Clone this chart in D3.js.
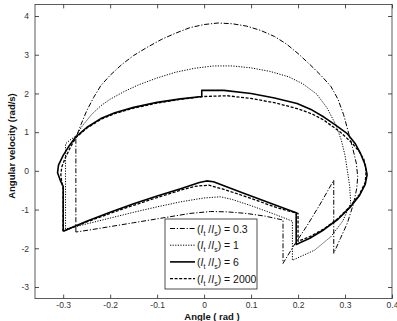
<!DOCTYPE html>
<html>
<head>
<meta charset="utf-8">
<script src="https://cdn.jsdelivr.net/npm/d3@7"></script>
<style>
  body { margin: 0; background: #fff; }
  svg { display: block; }
  text { font-family: "Liberation Sans", Arial, sans-serif; }
</style>
</head>
<body>
<div id="chart"></div>
<script>
// inertia ratios shown in the legend
const ratioLabels = ["0.3", "1", "6", "2000"];
const xTicks = [-0.3, -0.2, -0.1, 0, 0.1, 0.2, 0.3, 0.4];
const yTicks = [-3, -2, -1, 0, 1, 2, 3, 4];

// [angle (rad), angular velocity (rad/s)]
const ratio03 = [
  [-0.273, -1.58], [-0.273, 0.85], [-0.262, 1.2], [-0.25, 1.55], [-0.235, 1.9], [-0.22, 2.2],
  [-0.2, 2.47], [-0.175, 2.75], [-0.15, 2.98], [-0.12, 3.2], [-0.09, 3.4], [-0.06, 3.56],
  [-0.03, 3.7], [0.0, 3.78], [0.03, 3.82], [0.06, 3.8], [0.09, 3.74], [0.12, 3.63],
  [0.15, 3.47], [0.175, 3.28], [0.2, 3.03], [0.225, 2.75], [0.25, 2.45], [0.27, 2.18],
  [0.285, 1.85], [0.297, 1.45], [0.306, 1.05], [0.316, 0.6], [0.324, 0.2], [0.327, -0.15],
  [0.325, -0.45], [0.318, -0.85], [0.305, -1.35], [0.29, -1.75], [0.276, -2.13],
  [0.276, -0.24], [0.25, -0.8], [0.22, -1.4], [0.19, -1.95], [0.168, -2.39],
  [0.168, -1.27], [0.13, -1.17], [0.09, -1.1], [0.05, -1.06], [0.014, -1.05],
  [-0.03, -1.1], [-0.08, -1.2], [-0.15, -1.34], [-0.2, -1.44], [-0.24, -1.52], [-0.273, -1.58]
];
const ratio1 = [
  [-0.295, -1.5], [-0.295, 0.7], [-0.285, 0.8], [-0.273, 0.9], [-0.26, 1.15], [-0.24, 1.45],
  [-0.22, 1.68], [-0.2, 1.85], [-0.17, 2.05], [-0.14, 2.22], [-0.1, 2.4], [-0.06, 2.55],
  [-0.02, 2.65], [0.02, 2.71], [0.06, 2.71], [0.1, 2.66], [0.14, 2.57], [0.18, 2.43],
  [0.21, 2.25], [0.24, 1.98], [0.262, 1.62], [0.28, 1.2], [0.292, 0.8], [0.3, 0.4],
  [0.305, 0.0], [0.31, -0.4], [0.312, -0.84], [0.295, -1.3], [0.27, -1.7], [0.235, -2.05],
  [0.188, -2.31], [0.188, -1.3], [0.15, -1.12], [0.1, -0.9], [0.06, -0.74], [0.035, -0.67],
  [0.0, -0.7], [-0.05, -0.8], [-0.1, -0.93], [-0.15, -1.07], [-0.2, -1.22], [-0.25, -1.37],
  [-0.295, -1.5]
];
const ratio6 = [
  [-0.3, -1.56], [-0.3, -0.4], [-0.306, -0.25], [-0.312, -0.05], [-0.31, 0.15], [-0.3, 0.4],
  [-0.287, 0.65], [-0.273, 0.88], [-0.25, 1.12], [-0.22, 1.35], [-0.19, 1.5], [-0.15, 1.64],
  [-0.1, 1.77], [-0.05, 1.86], [-0.005, 1.92], [-0.005, 2.08], [0.042, 2.08], [0.1, 2.0],
  [0.15, 1.88], [0.198, 1.74], [0.23, 1.57], [0.255, 1.39], [0.28, 1.18], [0.304, 0.97],
  [0.322, 0.7], [0.333, 0.45], [0.343, 0.15], [0.347, -0.1], [0.343, -0.35], [0.33, -0.65],
  [0.31, -0.95], [0.285, -1.25], [0.255, -1.52], [0.225, -1.74], [0.196, -1.9],
  [0.196, -1.08], [0.16, -0.92], [0.12, -0.74], [0.08, -0.56], [0.045, -0.4], [0.02, -0.28],
  [0.005, -0.26], [-0.01, -0.3], [-0.05, -0.46], [-0.1, -0.65], [-0.15, -0.85],
  [-0.2, -1.07], [-0.25, -1.3], [-0.3, -1.56]
];
const ratio2000 = [
  [-0.3, -1.56], [-0.3, -0.45], [-0.303, -0.3], [-0.305, -0.1], [-0.303, 0.1], [-0.295, 0.35],
  [-0.285, 0.6], [-0.273, 0.86], [-0.25, 1.1], [-0.22, 1.33], [-0.19, 1.48], [-0.15, 1.62],
  [-0.1, 1.75], [-0.05, 1.85], [0.0, 1.92], [0.05, 1.94], [0.1, 1.87], [0.15, 1.76],
  [0.198, 1.61], [0.23, 1.47], [0.255, 1.31], [0.29, 1.0], [0.315, 0.72], [0.33, 0.5],
  [0.34, 0.3], [0.345, 0.0], [0.343, -0.3], [0.33, -0.62], [0.31, -0.93], [0.285, -1.23],
  [0.255, -1.5], [0.225, -1.7], [0.2, -1.82], [0.2, -1.1], [0.16, -0.97], [0.12, -0.8],
  [0.08, -0.63], [0.04, -0.47], [0.01, -0.37], [-0.02, -0.4], [-0.05, -0.5], [-0.1, -0.69],
  [-0.15, -0.89], [-0.2, -1.1], [-0.25, -1.32], [-0.3, -1.56]
];

const series = [ratio03, ratio1, ratio6, ratio2000];
const styles = [
  { dash: "5,1.8,1.2,1.8", width: 1 },
  { dash: "1.2,1.4", width: 1 },
  { dash: null, width: 1.6 },
  { dash: "3,1.6", width: 1.3 }
];

const W = 397, H = 321;
const margin = { top: 4.4, right: 5, bottom: 22.4, left: 35 };
const innerW = W - margin.left - margin.right;
const innerH = H - margin.top - margin.bottom;

const svg = d3.select("#chart").append("svg")
  .attr("width", W)
  .attr("height", H);

const g = svg.append("g")
  .attr("transform", `translate(${margin.left},${margin.top})`);

const x = d3.scaleLinear().domain([-0.36, 0.4]).range([0, innerW]);
const y = d3.scaleLinear().domain([-3.3, 4.3]).range([innerH, 0]);

g.append("rect")
  .attr("width", innerW)
  .attr("height", innerH)
  .attr("fill", "#fff");

const fmt = d => String(d);

// axes, ticks pointing inward like matlab
g.append("g").attr("transform", `translate(0,${innerH})`)
  .call(d3.axisBottom(x).tickValues(xTicks).tickFormat(fmt).tickSize(-4).tickPadding(3));
g.append("g")
  .call(d3.axisTop(x).tickValues(xTicks).tickFormat("").tickSize(-4));
g.append("g")
  .call(d3.axisLeft(y).tickValues(yTicks).tickFormat(fmt).tickSize(-4).tickPadding(6));
g.append("g").attr("transform", `translate(${innerW},0)`)
  .call(d3.axisRight(y).tickValues(yTicks).tickFormat("").tickSize(-4));

g.selectAll(".domain").remove();
g.selectAll(".tick line").attr("stroke", "#222").attr("stroke-width", 0.8);
g.selectAll(".tick text").attr("fill", "#333").style("font-size", "8.5px");

g.append("rect")
  .attr("width", innerW)
  .attr("height", innerH)
  .attr("fill", "none")
  .attr("stroke", "#333")
  .attr("stroke-width", 0.8);

const line = d3.line()
  .x(d => x(d[0]))
  .y(d => y(d[1]));

g.selectAll(".curve")
  .data(series)
  .enter()
  .append("path")
    .attr("class", "curve")
    .attr("d", line)
    .attr("fill", "none")
    .attr("stroke", "#000")
    .attr("stroke-width", (d, i) => styles[i].width)
    .attr("stroke-dasharray", (d, i) => styles[i].dash)
    .attr("stroke-linejoin", "round");

// legend
const lg = svg.append("g").attr("transform", "translate(165,219)");
lg.append("rect")
  .attr("width", 92)
  .attr("height", 70)
  .attr("fill", "#fff")
  .attr("stroke", "#222")
  .attr("stroke-width", 0.8);

const rows = lg.selectAll(".row")
  .data(ratioLabels)
  .enter()
  .append("g")
    .attr("class", "row")
    .attr("transform", (d, i) => `translate(0,${9.5 + i * 16.7})`);

rows.append("line")
  .attr("x1", 5).attr("x2", 30)
  .attr("stroke", "#000")
  .attr("stroke-width", (d, i) => styles[i].width)
  .attr("stroke-dasharray", (d, i) => styles[i].dash);

const lt = rows.append("text")
  .attr("x", 32)
  .attr("y", 4)
  .attr("fill", "#111")
  .style("font-size", "10.5px");
lt.append("tspan").text("(");
lt.append("tspan").style("font-style", "italic").text("I");
lt.append("tspan").attr("dy", 3).style("font-size", "7px").text("t");
lt.append("tspan").attr("dy", -3).text(" /");
lt.append("tspan").style("font-style", "italic").text("I");
lt.append("tspan").attr("dy", 3).style("font-size", "7px").text("s");
lt.append("tspan").attr("dy", -3).text(d => ") = " + d);

// axis titles
svg.append("text")
  .attr("x", 212)
  .attr("y", 319.5)
  .attr("text-anchor", "middle")
  .style("font-size", "9.5px")
  .style("font-weight", "bold")
  .attr("fill", "#111")
  .text("Angle  ( rad )");

svg.append("text")
  .attr("transform", "translate(15,146) rotate(-90)")
  .attr("text-anchor", "middle")
  .style("font-size", "9.5px")
  .style("font-weight", "bold")
  .attr("fill", "#111")
  .text("Angular velocity  (rad/s)");
</script>
</body>
</html>
